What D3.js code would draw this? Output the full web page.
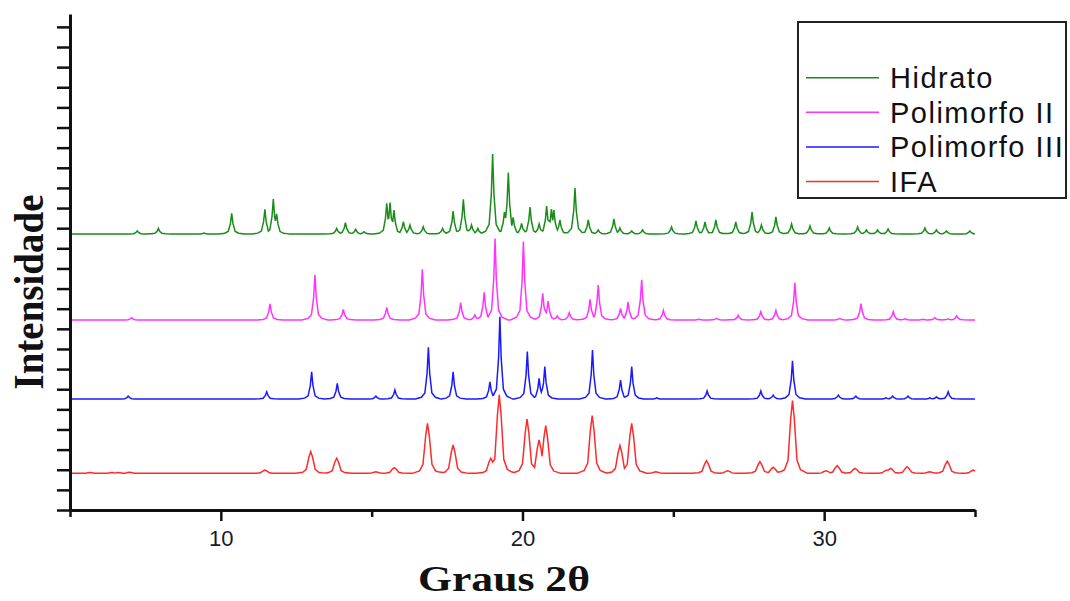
<!DOCTYPE html>
<html><head><meta charset="utf-8">
<script src="https://cdn.jsdelivr.net/npm/d3@7"></script>
<style>body{margin:0;background:#fff;} svg{display:block}</style>
</head><body><svg id="c" width="1070" height="601"></svg>
<script>
// ---------------- DATA ----------------
const seriesNames  = ["Hidrato", "Polimorfo II", "Polimorfo III", "IFA"];
const seriesColors = ["#1a8c1a", "#ff33ff", "#1a1aff", "#ff2a2a"];
const seriesOffsets = [1371, 944, 551, 182];           // vertical stacking offsets (a.u.)

// peaks: [2θ, height above baseline (a.u.)]
const hidratoPeaks = [
  [7.23,15],[7.93,28],[9.44,5],[10.36,103],[11.46,123],[11.74,174],[11.85,100],
  [13.84,28],[14.13,56],[14.47,23],[14.75,11],[15.50,153],[15.61,156],[15.74,119],
  [16.05,61],[16.27,45],[16.71,36],[17.35,28],[17.70,114],[18.04,172],[18.31,45],
  [18.52,28],[19.01,398],[19.40,109],[19.53,305],[19.69,83],[19.97,53],[20.25,134],
  [20.55,50],[20.80,139],[20.96,124],[21.04,119],[21.24,70],[21.74,229],[22.18,70],
  [22.51,20],[23.03,75],[23.23,30],[23.62,15],[23.98,20],[24.94,35],[25.75,65],
  [26.05,60],[26.41,70],[27.07,60],[27.61,109],[27.92,45],[28.40,85],[28.92,50],
  [29.53,40],[30.17,30],[31.11,35],[31.40,20],[31.77,20],[32.12,25],[33.34,30],
  [33.72,20],[34.05,15],[34.83,15]
];
const polimorfo2Peaks = [
  [7.04,11],[11.63,80],[13.12,224],[14.06,53],[15.50,63],[16.68,252],[17.95,86],
  [18.42,25],[18.73,138],[19.09,405],[20.03,390],[20.67,133],[20.85,94],[21.15,20],
  [21.55,36],[22.24,103],[22.51,174],[23.25,58],[23.50,89],[23.95,199],[24.67,48],
  [25.85,4],[26.43,8],[27.15,23],[27.90,41],[28.40,48],[29.03,185],[30.52,8],
  [31.22,81],[32.29,41],[32.67,6],[33.28,4],[33.67,11],[34.11,6],[34.39,20]
];
const polimorfo3Peaks = [
  [6.93,15],[11.52,36],[13.01,136],[13.86,78],[15.14,15],[15.77,45],[16.88,257],
  [17.70,136],[18.92,86],[19.25,409],[20.16,236],[20.55,103],[20.74,161],[22.32,244],
  [23.25,94],[23.62,161],[24.45,6],[26.12,40],[27.90,40],[28.31,20],[28.95,190],
  [30.47,20],[31.05,15],[32.05,6],[32.27,15],[32.78,15],[33.50,6],[33.72,11],[34.11,36]
];
const ifaPeaks = [
  [5.66,4],[6.39,4],[6.60,4],[6.97,5],[11.46,16],[12.98,108],[13.84,75],[15.14,8],
  [15.75,28],[16.85,249],[17.70,141],[18.95,75],[19.23,390],[20.15,269],[20.55,166],
  [20.77,237],[22.31,287],[23.23,138],[23.62,249],[24.42,8],[26.10,63],[26.80,13],
  [27.87,58],[28.31,30],[28.95,362],[30.06,13],[30.43,38],[31.02,25],[32.07,16],
  [32.20,25],[32.75,33],[33.50,8],[34.08,60],[34.94,16]
];
const seriesPeaks = [hidratoPeaks, polimorfo2Peaks, polimorfo3Peaks, ifaPeaks];

const xTickValues = [10, 20, 30];
const xMinorTickValues = [5, 15, 25, 35];
const xTitle = "Graus 2θ";
const yTitle = "Intensidade";

// ---------------- DRAW ----------------
const svg = d3.select("#c");
const x = d3.scaleLinear().domain([5, 35]).range([70, 975]);
const y = d3.scaleLinear().domain([0, 2464]).range([510, 14]);

// peak profile (pixel offset, relative height) — style only
const narrowShape = [[-13,0],[-7,0.035],[-3.5,0.12],[-1.3,0.5],[0,1],[1.3,0.5],[3.5,0.12],[7,0.035],[13,0]];
const wideShape   = [[-15,0],[-8,0.05],[-4.5,0.18],[-1.8,0.75],[0,1],[1.8,0.75],[4.5,0.18],[8,0.05],[15,0]];
const seriesShapes = [narrowShape, narrowShape, narrowShape, wideShape];

function shapeAt(shape, dx) {
  if (dx <= shape[0][0] || dx >= shape[shape.length-1][0]) return 0;
  for (let i = 0; i < shape.length - 1; i++) {
    const a = shape[i], b = shape[i+1];
    if (dx >= a[0] && dx <= b[0]) return a[1] + (b[1]-a[1]) * (dx - a[0]) / (b[0]-a[0]);
  }
  return 0;
}

function profile(peaks, shape) {
  const xsPx = new Set([x(5), x(35)]);
  peaks.forEach(p => shape.forEach(s => {
    const px = x(p[0]) + s[0];
    if (px >= x(5) && px <= x(35)) xsPx.add(px);
  }));
  const sorted = Array.from(xsPx).sort((a,b) => a-b);
  return sorted.map(px => {
    let v = 0;
    peaks.forEach(p => { v = Math.max(v, p[1] * shapeAt(shape, px - x(p[0]))); });
    return [x.invert(px), v];
  });
}

seriesPeaks.forEach((peaks, i) => {
  const pts = profile(peaks, seriesShapes[i]);
  const line = d3.line().x(d => x(d[0])).y(d => y(seriesOffsets[i] + d[1]));
  svg.append("path").datum(pts)
    .attr("d", line)
    .attr("fill", "none")
    .attr("stroke", seriesColors[i])
    .attr("stroke-width", 1.5)
    .attr("stroke-linejoin", "miter");
});

// Y axis
const yAxis = d3.axisLeft(y).tickValues(d3.range(0, 2401, 100)).tickSize(13).tickSizeOuter(0).tickFormat("");
const gy = svg.append("g").attr("transform", `translate(${x(5)},0)`).call(yAxis);
gy.select(".domain").attr("stroke", "#111").attr("stroke-width", 3);
gy.selectAll(".tick line").attr("stroke", "#111").attr("stroke-width", 2.5);

// X axis
const xAxis = d3.axisBottom(x).tickValues(xTickValues).tickSize(11).tickSizeOuter(0).tickPadding(20)
  .tickFormat(d3.format("d"));
const gx = svg.append("g").attr("transform", `translate(0,${y(0)})`).call(xAxis);
gx.select(".domain").attr("stroke", "#111").attr("stroke-width", 3);
gx.selectAll(".tick line").attr("stroke", "#111").attr("stroke-width", 2.5);
gx.selectAll(".tick text").attr("font-family", "'Liberation Sans', Arial, sans-serif")
  .attr("font-size", 22).attr("fill", "#1a1a2a").attr("dy", "0").attr("y", 36);
const xMinor = d3.axisBottom(x).tickValues(xMinorTickValues).tickSize(7).tickSizeOuter(0).tickFormat("");
const gxm = svg.append("g").attr("transform", `translate(0,${y(0)})`).call(xMinor);
gxm.select(".domain").remove();
gxm.selectAll(".tick line").attr("stroke", "#111").attr("stroke-width", 2.5);

// Axis titles
svg.append("text")
  .attr("transform", `translate(43,292) rotate(-90)`)
  .attr("text-anchor", "middle")
  .attr("font-family", "'Liberation Serif', 'Times New Roman', serif")
  .attr("font-weight", "bold").attr("font-size", 42)
  .attr("textLength", 195).attr("lengthAdjust", "spacingAndGlyphs")
  .attr("fill", "#111")
  .text(yTitle);
svg.append("text")
  .attr("x", 504).attr("y", 591)
  .attr("text-anchor", "middle")
  .attr("font-family", "'Liberation Serif', 'Times New Roman', serif")
  .attr("font-weight", "bold").attr("font-size", 36)
  .attr("textLength", 172).attr("lengthAdjust", "spacingAndGlyphs")
  .attr("fill", "#111")
  .text(xTitle);

// Legend
const lg = svg.append("g");
lg.append("rect").attr("x", 798).attr("y", 22).attr("width", 268).attr("height", 176)
  .attr("fill", "#fff").attr("stroke", "#222").attr("stroke-width", 2);
seriesNames.forEach((name, i) => {
  const ly = 77.7 + i * 34.6;
  lg.append("line").attr("x1", 806).attr("x2", 879).attr("y1", ly).attr("y2", ly)
    .attr("stroke", seriesColors[i]).attr("stroke-width", 1.5);
  lg.append("text").attr("x", 890).attr("y", ly + 10.2)
    .attr("font-family", "'Liberation Sans', Arial, sans-serif")
    .attr("font-size", 29).attr("letter-spacing", 1.5).attr("fill", "#111")
    .text(name);
});
</script>
</body></html>
